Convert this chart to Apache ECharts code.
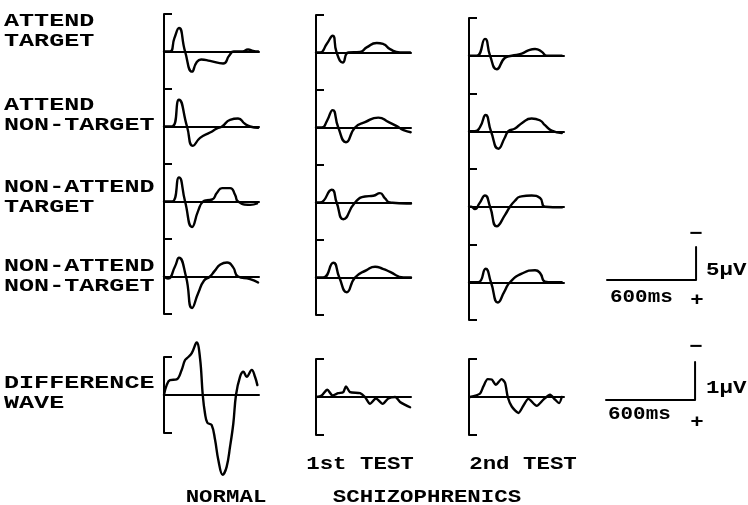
<!DOCTYPE html>
<html><head><meta charset="utf-8">
<script src="https://cdn.jsdelivr.net/npm/echarts@6/dist/echarts.min.js"></script>
<style>html,body{margin:0;padding:0;background:#fff}#c{width:748px;height:505px}</style>
</head><body><div id="c"></div>
<script>
// ---- DATA: [time in ms, amplitude in µV] (negative plotted upward) ----
const normalAttTarget   = [[0,0],[40,0],[70,-2.0],[101,-3.5],[142,0],[189,3.0],[220,1.6],[250,1.2],[310,1.4],[398,1.8],[440,0.6],[470,0],[530,0],[566,-0.3],[600,-0.1],[634,0]];
const normalAttNon      = [[0,0],[54,0],[101,-4.0],[155,0],[195,2.9],[243,1.7],[310,0.9],[357,0.3],[391,0],[445,-1.0],[499,-1.2],[545,-0.4],[580,0],[634,0.2]];
const normalNonAttTarget= [[0,0],[54,0],[101,-3.6],[142,0],[189,3.8],[230,1.4],[263,0],[290,-0.2],[324,-0.3],[357,-1.3],[391,-2.0],[445,-2.0],[479,-1.0],[499,0],[580,0.5],[627,0.3]];
const normalNonAttNon   = [[0,0],[27,0.3],[74,-1.5],[101,-2.8],[148,0],[189,4.7],[230,2.5],[270,0.6],[310,0],[340,-0.8],[380,-1.8],[425,-2.1],[465,-1.4],[499,0],[580,0.4],[634,0.9]];
const normalDiff        = [[0,0],[18,-0.26],[40,-0.39],[85,-0.41],[119,-0.66],[142,-0.92],[164,-1.0],[187,-1.1],[220,-1.38],[243,-0.96],[261,0],[276,0.48],[292,0.73],[321,0.79],[344,1.18],[366,1.71],[395,2.1],[422,1.89],[445,1.36],[467,0.75],[485,0],[512,-0.48],[535,-0.61],[557,-0.48],[591,-0.66],[613,-0.48],[629,-0.26]];

const sch1AttTarget     = [[0,0],[27,0],[72,-1.26],[112,-2.5],[139,0],[180,1.5],[218,0],[297,-0.1],[341,-0.76],[409,-1.41],[454,-1.26],[499,-0.5],[566,0],[634,0]];
const sch1AttNon        = [[0,0],[40,0],[74,-1.0],[112,-2.6],[150,0],[202,2.2],[263,0],[330,-0.8],[420,-1.47],[490,-0.8],[544,-0.2],[590,0.4],[638,0.7]];
const sch1NonAttTarget  = [[0,0],[27,0],[106,-1.9],[139,0],[184,2.5],[263,0],[330,-0.9],[386,-1.0],[431,-1.4],[465,-0.6],[499,0],[611,0.15],[640,0.15]];
const sch1NonAttNon     = [[0,0],[49,0],[117,-2.2],[157,0],[207,2.2],[263,0],[341,-1.1],[398,-1.6],[450,-1.3],[499,-0.85],[589,0],[640,0]];
const sch1Diff          = [[4,0],[38,-0.04],[76,-0.19],[112,-0.04],[150,-0.1],[184,-0.13],[202,-0.28],[229,-0.13],[297,-0.1],[330,0],[364,0.18],[404,0.04],[449,0.18],[487,0.04],[533,0],[566,0.13],[607,0.22],[634,0.27]];

const sch2AttTarget     = [[0,0],[52,0],[108,-2.5],[142,0],[187,2.0],[243,0.3],[288,0],[355,-0.3],[400,-0.8],[445,-1.0],[490,-0.6],[524,0],[625,0]];
const sch2AttNon        = [[0,0],[40,0],[74,-0.6],[112,-2.4],[148,0],[198,2.6],[240,1.0],[265,0],[310,-0.4],[355,-1.2],[422,-1.9],[479,-1.6],[512,-0.9],[557,-0.1],[625,0.25]];
const sch2NonAttTarget  = [[0,0],[15,0],[40,0.35],[70,-0.5],[108,-1.67],[142,0],[187,2.9],[243,1.2],[276,0],[310,-0.9],[344,-1.5],[422,-1.67],[479,-1.3],[512,0],[625,0.1]];
const sch2NonAttNon     = [[0,0],[63,0],[112,-2.0],[148,0],[195,3.0],[240,1.3],[276,0],[355,-1.27],[445,-1.77],[479,-1.36],[512,-0.1],[560,0],[625,0]];
const sch2Diff          = [[7,0],[74,-0.09],[97,-0.28],[126,-0.47],[153,-0.46],[180,-0.32],[220,-0.47],[243,-0.37],[261,0],[288,0.25],[333,0.42],[366,0.23],[400,0.05],[456,0.23],[501,0.07],[546,-0.06],[580,0.07],[607,0.16],[625,0]];

const rowLabels    = ['ATTEND\nTARGET','ATTEND\nNON-TARGET','NON-ATTEND\nTARGET','NON-ATTEND\nNON-TARGET','DIFFERENCE\nWAVE'];
const columnLabels = ['1st TEST','2nd TEST'];
const groupLabels  = ['NORMAL','SCHIZOPHRENICS'];
const calTimeMs    = [600, 600];
const calAmpUV     = [5, 1];
const calAmpLabels = ['5\u03bcV','1\u03bcV'];
const calTimeLabels= ['600ms','600ms'];
const ampRange     = [5.6, 1];   // half range of ERP panels / difference panels (µV)
const timeRange    = [0, 640];

// ---- LAYOUT ----
const waves = [
  [normalAttTarget, normalAttNon, normalNonAttTarget, normalNonAttNon, normalDiff],
  [sch1AttTarget, sch1AttNon, sch1NonAttTarget, sch1NonAttNon, sch1Diff],
  [sch2AttTarget, sch2AttNon, sch2NonAttTarget, sch2NonAttNon, sch2Diff]
];
const colLeft = [164, 316, 469];
const colTop = [14, 15, 18];
const rowH = [75, 75, 75.5];
const diffBase = [395, 397, 397];
const PLOT_W = 95;

const grids = [], xAxes = [], yAxes = [], series = [];
function addPanel(left, top, h, m, data, smooth, showAxes, lw) {
  const i = grids.length;
  grids.push({left: left, top: top, width: PLOT_W, height: h});
  xAxes.push({gridIndex: i, type: 'value', min: timeRange[0], max: timeRange[1], show: showAxes,
    axisLine: {show: true, onZero: true, lineStyle: {color: '#000', width: 2}},
    axisTick: {show: false}, axisLabel: {show: false}, splitLine: {show: false}});
  yAxes.push({gridIndex: i, type: 'value', inverse: true, min: -m, max: m, show: showAxes,
    axisLine: {show: true, onZero: false, lineStyle: {color: '#000', width: 2}},
    axisTick: {show: true, inside: true, length: 8, customValues: [-m, m], lineStyle: {color: '#000', width: 2}},
    axisLabel: {show: false}, splitLine: {show: false}});
  series.push({type: 'line', xAxisIndex: i, yAxisIndex: i, data: data, smooth: smooth,
    showSymbol: false, symbol: 'none', clip: false, silent: true,
    lineStyle: {color: '#000', width: lw || 2.4, join: 'round', cap: 'round'}});
}
for (let c = 0; c < 3; c++) {
  for (let r = 0; r < 4; r++) {
    addPanel(colLeft[c], colTop[c] + r * rowH[c], rowH[c], ampRange[0], waves[c][r], 0.55, true);
  }
  addPanel(colLeft[c], diffBase[c] - 38, 76, ampRange[1], waves[c][4], c === 0 ? 0.4 : 0.25, true);
}
// calibration bars
addPanel(607, 280 - 37, 74, ampRange[0], [[0,0],[calTimeMs[0],0],[calTimeMs[0],-calAmpUV[0]]], false, false, 2);
addPanel(606, 400 - 38, 76, ampRange[1], [[0,0],[calTimeMs[1],0],[calTimeMs[1],-calAmpUV[1]]], false, false, 2);

const FONT = 'bold 19px "Liberation Mono", "DejaVu Sans Mono", monospace';
function txt(str, x, y, align, sx) {
  return {type: 'text', x: x, y: y, scaleX: sx || 1.18, silent: true,
    style: {text: str, font: FONT, fill: '#000', textAlign: align || 'left', textVerticalAlign: 'middle',
      align: align || 'left', verticalAlign: 'middle', lineHeight: 20}};
}
const rowLabelY = [31, 115, 197, 276, 393];
const graphics = [];
rowLabels.forEach((s, i) => graphics.push(txt(s, 4, rowLabelY[i], 'left', 1.32)));
graphics.push(txt(columnLabels[0], 360, 464, 'center'));
graphics.push(txt(columnLabels[1], 523, 464, 'center'));
graphics.push(txt(groupLabels[0], 226, 497, 'center'));
graphics.push(txt(groupLabels[1], 427, 497, 'center'));
graphics.push(txt(calAmpLabels[0], 706, 270, 'left'));
graphics.push(txt(calTimeLabels[0], 610, 297, 'left', 1.1));
graphics.push(txt(calAmpLabels[1], 706, 388, 'left'));
graphics.push(txt(calTimeLabels[1], 608, 414, 'left', 1.1));
graphics.push(txt('\u2212', 696, 234, 'center'));
graphics.push(txt('+', 697, 300, 'center'));
graphics.push(txt('\u2212', 696, 347, 'center'));
graphics.push(txt('+', 697, 422, 'center'));

const chart = echarts.init(document.getElementById('c'), null, {renderer: 'canvas'});
chart.setOption({
  animation: false,
  backgroundColor: '#fff',
  grid: grids, xAxis: xAxes, yAxis: yAxes, series: series,
  graphic: graphics
});
</script></body></html>
